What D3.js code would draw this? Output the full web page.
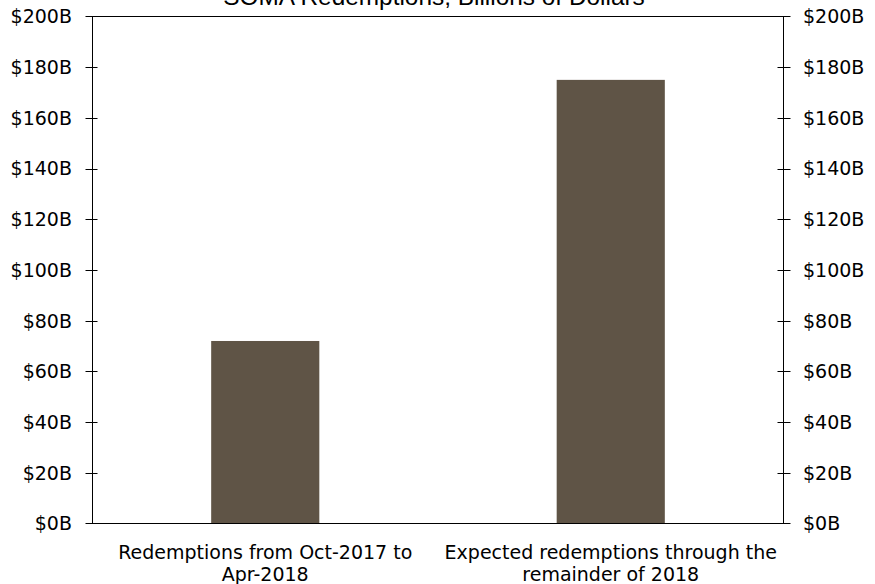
<!DOCTYPE html>
<html>
<head>
<meta charset="utf-8">
<script src="https://cdn.jsdelivr.net/npm/d3@7"></script>
<style>
  html, body { margin: 0; padding: 0; background: #fff; }
  svg { display: block; }
  .tick-label, .cat-label { font-family: "DejaVu Sans", Verdana, sans-serif; font-size: 19px; fill: #000; }
  .title { font-family: "Liberation Sans", Arial, sans-serif; font-size: 24.4px; fill: #000; }
</style>
</head>
<body>
<svg id="chart" width="875" height="584"></svg>
<script>
// SOMA redemptions bar chart
const title = 'SOMA Redemptions, Billions of Dollars';
const categories = [
  'Redemptions from Oct-2017 to Apr-2018',
  'Expected redemptions through the remainder of 2018'
];
const values = [72, 175];
const yTicks = [0, 20, 40, 60, 80, 100, 120, 140, 160, 180, 200];

const svg = d3.select('#chart');
const plotLeft = 92.5, plotRight = 783.5, plotTop = 16.5, plotBottom = 523.5;

const x = d3.scaleBand()
  .domain(categories)
  .range([plotLeft, plotRight])
  .paddingInner(0.687)
  .paddingOuter(0.3435);

// full band (no padding) for label wrapping / centring
const xFull = d3.scaleBand().domain(categories).range([plotLeft, plotRight]);

const y = d3.scaleLinear().domain([0, 200]).range([plotBottom, plotTop]);

// bars
svg.append('g')
  .selectAll('rect')
  .data(values)
  .join('rect')
  .attr('x', (d, i) => x(categories[i]))
  .attr('width', x.bandwidth())
  .attr('y', d => y(d))
  .attr('height', d => y(0) - y(d))
  .attr('fill', '#5f5446');

// frame: left, right, top, bottom lines
const frame = svg.append('g').attr('stroke', '#000').attr('stroke-width', 1).attr('fill', 'none');
frame.append('line').attr('x1', plotLeft).attr('x2', plotLeft).attr('y1', plotTop).attr('y2', plotBottom);
frame.append('line').attr('x1', plotRight).attr('x2', plotRight).attr('y1', plotTop).attr('y2', plotBottom);
frame.append('line').attr('x1', plotLeft - 7).attr('x2', plotRight + 7).attr('y1', plotTop).attr('y2', plotTop);
frame.append('line').attr('x1', plotLeft - 7).attr('x2', plotRight + 7).attr('y1', plotBottom).attr('y2', plotBottom);

// tick marks crossing the axes
const tickG = svg.append('g').attr('stroke', '#000').attr('stroke-width', 1);
tickG.selectAll('line.lt')
  .data(yTicks.slice(1, -1))
  .join('line')
  .attr('class', 'lt')
  .attr('x1', plotLeft - 7).attr('x2', plotLeft + 5)
  .attr('y1', d => Math.round(y(d)) + 0.5).attr('y2', d => Math.round(y(d)) + 0.5);
tickG.selectAll('line.rt')
  .data(yTicks.slice(1, -1))
  .join('line')
  .attr('class', 'rt')
  .attr('x1', plotRight - 6).attr('x2', plotRight + 7)
  .attr('y1', d => Math.round(y(d)) + 0.5).attr('y2', d => Math.round(y(d)) + 0.5);

// tick labels both sides
svg.append('g')
  .selectAll('text')
  .data(yTicks)
  .join('text')
  .attr('class', 'tick-label')
  .attr('x', 72)
  .attr('y', d => y(d))
  .attr('dy', '0.36em')
  .attr('text-anchor', 'end')
  .text(d => `$${d}B`);

svg.append('g')
  .selectAll('text')
  .data(yTicks)
  .join('text')
  .attr('class', 'tick-label')
  .attr('x', 803)
  .attr('y', d => y(d))
  .attr('dy', '0.36em')
  .attr('text-anchor', 'start')
  .text(d => `$${d}B`);

// category labels, wrapped to the band width
svg.append('g')
  .selectAll('text')
  .data(categories)
  .join('text')
  .attr('class', 'cat-label')
  .attr('text-anchor', 'middle')
  .attr('x', d => xFull(d) + xFull.bandwidth() / 2)
  .attr('y', 559)
  .each(function(d) {
    wrap(d3.select(this), d, xFull.bandwidth());
  });

function wrap(text, str, width) {
  const words = str.split(' ');
  const cx = text.attr('x');
  let line = [];
  let tspan = text.append('tspan').attr('x', cx).attr('dy', 0);
  words.forEach(w => {
    line.push(w);
    tspan.text(line.join(' '));
    if (tspan.node().getComputedTextLength() > width && line.length > 1) {
      line.pop();
      tspan.text(line.join(' '));
      line = [w];
      tspan = text.append('tspan').attr('x', cx).attr('dy', 22).text(w);
    }
  });
}

// title (partly cut off at the top, as in the original)
svg.append('text')
  .attr('class', 'title')
  .attr('x', 434)
  .attr('y', 5)
  .attr('text-anchor', 'middle')
  .text(title);
</script>
</body>
</html>
